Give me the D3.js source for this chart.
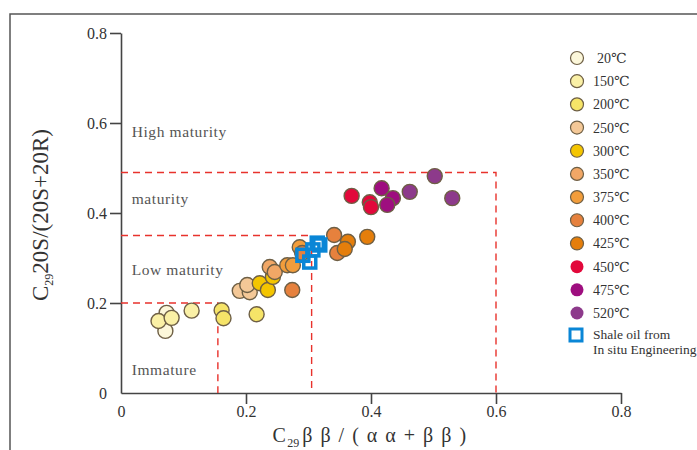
<!DOCTYPE html>
<html>
<head>
<meta charset="utf-8">
<script src="https://cdn.jsdelivr.net/npm/d3@7"></script>
<style>
  body { margin: 0; background: #fff; }
  svg text { font-family: "Liberation Serif", "DejaVu Serif", serif !important; }
</style>
</head>
<body>
<div id="chart"></div>
<script>
// temperature groups and colours
var temps = ["20℃", "150℃", "200℃", "250℃", "300℃", "350℃", "375℃", "400℃", "425℃", "450℃", "475℃", "520℃"];
var tempColors = ["#FCF7DA", "#FAF0A6", "#F6E468", "#F4C897", "#F4C500", "#F1A766", "#F29D3B", "#E6813D", "#E57E0B", "#E2083B", "#9E0E7F", "#8D3A8B"];

// points as [C29 bb/(aa+bb), C29 20S/(20S+20R)] per temperature
var p20 = [[0.073, 0.178], [0.071, 0.138]];
var p150 = [[0.060, 0.160], [0.081, 0.167], [0.113, 0.183]];
var p200 = [[0.161, 0.184], [0.164, 0.166], [0.217, 0.175]];
var p250 = [[0.190, 0.227], [0.206, 0.224], [0.202, 0.240]];
var p300 = [[0.222, 0.244], [0.235, 0.229], [0.243, 0.258]];
var p350 = [[0.238, 0.280], [0.246, 0.269]];
var p375 = [[0.266, 0.284], [0.275, 0.284], [0.286, 0.324]];
var p400 = [[0.274, 0.229], [0.290, 0.311], [0.341, 0.351], [0.346, 0.311]];
var p425 = [[0.363, 0.336], [0.358, 0.320], [0.394, 0.347]];
var p450 = [[0.369, 0.438], [0.398, 0.424], [0.400, 0.413]];
var p475 = [[0.417, 0.455], [0.435, 0.433], [0.426, 0.418]];
var p520 = [[0.462, 0.447], [0.502, 0.482], [0.530, 0.433]];
var groups = [p20, p150, p200, p250, p300, p350, p375, p400, p425, p450, p475, p520];

// shale oil from in situ engineering
var shale = [[0.291, 0.306], [0.302, 0.291], [0.307, 0.318], [0.314, 0.333], [0.318, 0.329]];

var xTicks = [0, 0.2, 0.4, 0.6, 0.8];
var yTicks = [0, 0.2, 0.4, 0.6, 0.8];

// maturity zone boundaries [x end, y]
var zones = [[0.6, 0.49], [0.305, 0.35], [0.155, 0.2]];
var zoneLabels = [["High maturity", 0.57], ["maturity", 0.42], ["Low maturity", 0.263], ["Immature", 0.04]];

var width = 697;
var height = 450;

var svg = d3.select("#chart").append("svg")
  .attr("width", width)
  .attr("height", height)
  .attr("font-family", "Liberation Serif");

svg.append("rect")
  .attr("x", 10).attr("y", 14)
  .attr("width", 700).attr("height", 460)
  .attr("fill", "none")
  .attr("stroke", "#555")
  .attr("stroke-width", 1.5);

var x = d3.scaleLinear().domain([0, 0.8]).range([121, 621]);
var y = d3.scaleLinear().domain([0, 0.8]).range([393, 33]);

var fmt = function (d) { return d === 0 ? "0" : d3.format(".1f")(d); };

// axes
var xAxis = svg.append("g")
  .attr("transform", "translate(0," + y(0) + ")")
  .call(d3.axisBottom(x).tickValues(xTicks).tickSize(11).tickSizeOuter(0).tickFormat(fmt));

var yAxis = svg.append("g")
  .attr("transform", "translate(" + x(0) + ",0)")
  .call(d3.axisLeft(y).tickValues(yTicks).tickSize(11).tickSizeOuter(0).tickFormat(fmt));

[xAxis, yAxis].forEach(function (a) {
  a.attr("font-family", "Liberation Serif").attr("font-size", 16);
  a.select(".domain").attr("stroke", "#444").attr("stroke-width", 1.6);
  a.selectAll(".tick line").attr("stroke", "#444").attr("stroke-width", 1.6)
    .attr("opacity", function (d) { return d === 0 ? 0 : 1; });
  a.selectAll(".tick text").attr("fill", "#333");
});
xAxis.selectAll(".tick text").attr("y", 12).attr("dy", "0.75em");
yAxis.selectAll(".tick text").attr("x", -14);

// dashed zone lines
zones.forEach(function (z) {
  svg.append("path")
    .attr("d", "M" + x(0) + "," + y(z[1]) + "H" + x(z[0]) + "V" + y(0))
    .attr("fill", "none")
    .attr("stroke", "#E8322C")
    .attr("stroke-width", 1.4)
    .attr("stroke-dasharray", "7,5");
});

svg.selectAll(".zone")
  .data(zoneLabels)
  .enter().append("text")
  .attr("x", x(0.017))
  .attr("y", function (d) { return y(d[1]); })
  .text(function (d) { return d[0]; })
  .attr("fill", "#555")
  .style("font-size", "15.5px")
  .style("letter-spacing", "0.6px");

// points
groups.forEach(function (g, i) {
  svg.selectAll(".pt" + i)
    .data(g)
    .enter().append("circle")
    .attr("cx", function (d) { return x(d[0]); })
    .attr("cy", function (d) { return y(d[1]); })
    .attr("r", 7.5)
    .attr("fill", tempColors[i])
    .attr("stroke", "#6E5F45")
    .attr("stroke-width", 1.4);
});

svg.selectAll(".shale")
  .data(shale)
  .enter().append("rect")
  .attr("x", function (d) { return x(d[0]) - 6; })
  .attr("y", function (d) { return y(d[1]) - 6; })
  .attr("width", 12)
  .attr("height", 12)
  .attr("fill", "none")
  .attr("stroke", "#0A86D6")
  .attr("stroke-width", 3.5);

// legend
var legend = svg.append("g");
var ly = d3.scaleLinear().domain([0, 11]).range([58, 313]);
temps.forEach(function (t, i) {
  legend.append("circle")
    .attr("cx", 577).attr("cy", ly(i)).attr("r", 6.5)
    .attr("fill", tempColors[i])
    .attr("stroke", i < 9 ? "#6E5F45" : "none")
    .attr("stroke-width", 1.2);
  legend.append("text")
    .attr("x", i === 0 ? 597 : 593).attr("y", ly(i) + 5)
    .text(t)
    .attr("fill", "#333")
    .style("font-size", "14px");
});
legend.append("rect")
  .attr("x", 570).attr("y", 329).attr("width", 12).attr("height", 12)
  .attr("fill", "none").attr("stroke", "#0A86D6").attr("stroke-width", 3);
legend.append("text").attr("x", 593).attr("y", 339).text("Shale oil from")
  .attr("fill", "#333").style("font-size", "13.5px");
legend.append("text").attr("x", 593).attr("y", 354).text("In situ Engineering")
  .attr("fill", "#333").style("font-size", "13.5px");

// axis titles
var yt = svg.append("text")
  .attr("transform", "translate(48,215) rotate(-90)")
  .attr("text-anchor", "middle")
  .attr("fill", "#333")
  .style("font-size", "23px");
yt.append("tspan").text("C");
yt.append("tspan").text("29").style("font-size", "12px").attr("dy", 5);
yt.append("tspan").text("20S/(20S+20R)").attr("dy", -5);

var xt = svg.append("text")
  .attr("x", 370).attr("y", 442)
  .attr("text-anchor", "middle")
  .attr("fill", "#333")
  .style("font-size", "20px")
  .style("letter-spacing", "1.5px");
xt.append("tspan").text("C");
xt.append("tspan").text("29").style("font-size", "12px").style("letter-spacing", "0px").attr("dy", 5);
xt.append("tspan").text("β   β  /  (  α   α  +  β   β  )").attr("dy", -5).attr("dx", 3);
</script>
</body>
</html>
